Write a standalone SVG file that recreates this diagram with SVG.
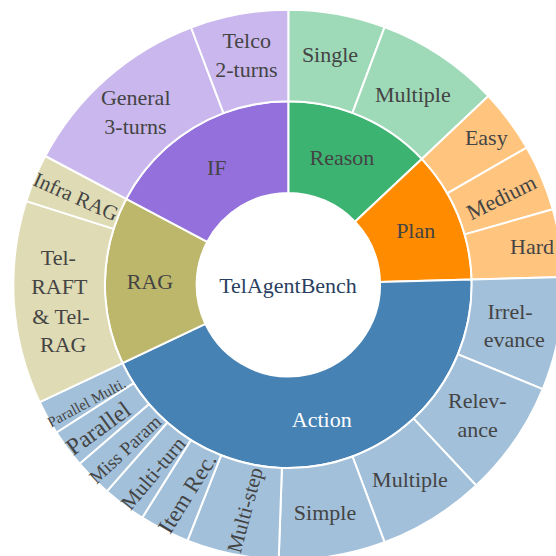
<svg xmlns="http://www.w3.org/2000/svg" width="556" height="556" viewBox="0 0 556 556">
<style>
path{stroke:#fff;stroke-width:2;stroke-linejoin:round}
text{font-family:'Liberation Serif','DejaVu Serif',serif;font-size:22px;fill:#444;text-anchor:middle}
.c-reason{fill:#3cb371}.l-reason{fill:#9ed9b8}
.c-plan{fill:#ff8c00}.l-plan{fill:#ffc57f}
.c-action{fill:#4682b4}.l-action{fill:#a2c0d9}
.c-rag{fill:#bdb76b}.l-rag{fill:#dedbb5}
.c-if{fill:#9370db}.l-if{fill:#c9b7ed}
.rot{dominant-baseline:central}
</style>
<rect width="556" height="556" fill="#fff"/>
<g id="root">
<circle cx="288.3" cy="284.7" r="91.7" fill="#fff"/>
<text x="288" y="293" font-family="Liberation Serif, serif" style="fill:#2a3f5f">TelAgentBench</text>
</g>
<g id="reason">
<path class="c-reason" d="M288.3,101.3 A183.4,183.4 0 0 1 421.8,158.9 L355.0,221.8 A91.7,91.7 0 0 0 288.3,193.0 Z"/>
<text x="342" y="165">Reason</text>
</g>
<g id="plan">
<path class="c-plan" d="M421.8,158.9 A183.4,183.4 0 0 1 471.6,279.6 L380.0,282.1 A91.7,91.7 0 0 0 355.0,221.8 Z"/>
<text x="415.7" y="238.3">Plan</text>
</g>
<g id="action">
<path class="c-action" d="M471.6,279.6 A183.4,183.4 0 0 1 122.5,363.1 L205.4,323.9 A91.7,91.7 0 0 0 380.0,282.1 Z"/>
<text x="321.7" y="426.7" style="fill:#fff">Action</text>
</g>
<g id="rag">
<path class="c-rag" d="M122.5,363.1 A183.4,183.4 0 0 1 126.2,198.9 L207.3,241.8 A91.7,91.7 0 0 0 205.4,323.9 Z"/>
<text x="150" y="289.3">RAG</text>
</g>
<g id="if">
<path class="c-if" d="M126.2,198.9 A183.4,183.4 0 0 1 288.3,101.3 L288.3,193.0 A91.7,91.7 0 0 0 207.3,241.8 Z"/>
<text x="216.7" y="175">IF</text>
</g>
<g id="reason-single">
<path class="l-reason" d="M288.3,9.7 A275,275 0 0 1 384.6,27.1 L352.5,112.9 A183.4,183.4 0 0 0 288.3,101.3 Z"/>
<text x="330" y="61.7">Single</text>
</g>
<g id="reason-multiple">
<path class="l-reason" d="M384.6,27.1 A275,275 0 0 1 488.4,96.1 L421.8,158.9 A183.4,183.4 0 0 0 352.5,112.9 Z"/>
<text x="412.8" y="101.7">Multiple</text>
</g>
<g id="plan-easy">
<path class="l-plan" d="M488.4,96.1 A275,275 0 0 1 526.7,147.6 L447.3,193.3 A183.4,183.4 0 0 0 421.8,158.9 Z"/>
<text x="486.3" y="145">Easy</text>
</g>
<g id="plan-medium">
<path class="l-plan" d="M526.7,147.6 A275,275 0 0 1 552.8,209.3 L464.7,234.4 A183.4,183.4 0 0 0 447.3,193.3 Z"/>
<text class="rot" transform="translate(501.3,197.3) rotate(-26.3)">Medium</text>
</g>
<g id="plan-hard">
<path class="l-plan" d="M552.8,209.3 A275,275 0 0 1 563.2,277.0 L471.6,279.6 A183.4,183.4 0 0 0 464.7,234.4 Z"/>
<text x="532" y="254">Hard</text>
</g>
<g id="action-irrelevance">
<path class="l-action" d="M563.2,277.0 A275,275 0 0 1 542.7,389.1 L458.0,354.3 A183.4,183.4 0 0 0 471.6,279.6 Z"/>
<text x="510" y="319.3">Irrel-</text>
<text x="514.3" y="347.3">evance</text>
</g>
<g id="action-relevance">
<path class="l-action" d="M542.7,389.1 A275,275 0 0 1 476.2,485.5 L413.6,418.6 A183.4,183.4 0 0 0 458.0,354.3 Z"/>
<text x="477.3" y="408.3">Relev-</text>
<text x="477.7" y="436.7">ance</text>
</g>
<g id="action-multiple">
<path class="l-action" d="M476.2,485.5 A275,275 0 0 1 384.6,542.3 L352.5,456.5 A183.4,183.4 0 0 0 413.6,418.6 Z"/>
<text x="410" y="487.3">Multiple</text>
</g>
<g id="action-simple">
<path class="l-action" d="M384.6,542.3 A275,275 0 0 1 278.7,559.5 L281.9,468.0 A183.4,183.4 0 0 0 352.5,456.5 Z"/>
<text x="325" y="520">Simple</text>
</g>
<g id="action-multistep">
<path class="l-action" d="M278.7,559.5 A275,275 0 0 1 187.5,540.6 L221.1,455.3 A183.4,183.4 0 0 0 281.9,468.0 Z"/>
<text class="rot" style="font-size:21px" transform="translate(245,510) rotate(-75)">Multi-step</text>
</g>
<g id="action-itemrec">
<path class="l-action" d="M187.5,540.6 A275,275 0 0 1 142.2,517.7 L190.8,440.1 A183.4,183.4 0 0 0 221.1,455.3 Z"/>
<text class="rot" style="font-size:23px" transform="translate(187.3,493.3) rotate(-58)">Item Rec.</text>
</g>
<g id="action-multiturn">
<path class="l-action" d="M142.2,517.7 A275,275 0 0 1 106.8,491.3 L167.3,422.5 A183.4,183.4 0 0 0 190.8,440.1 Z"/>
<text class="rot" style="font-size:21px" transform="translate(153.3,473.3) rotate(-50)">Multi-turn</text>
</g>
<g id="action-missparam">
<path class="l-action" d="M106.8,491.3 A275,275 0 0 1 79.5,463.7 L149.0,404.1 A183.4,183.4 0 0 0 167.3,422.5 Z"/>
<text class="rot" style="font-size:19px" transform="translate(125,449.3) rotate(-43)">Miss Param</text>
</g>
<g id="action-parallel">
<path class="l-action" d="M79.5,463.7 A275,275 0 0 1 56.4,432.5 L133.6,383.2 A183.4,183.4 0 0 0 149.0,404.1 Z"/>
<text class="rot" style="font-size:24px" transform="translate(98.3,428.3) rotate(-36)">Parallel</text>
</g>
<g id="action-parallelmulti">
<path class="l-action" d="M56.4,432.5 A275,275 0 0 1 39.7,402.2 L122.5,363.1 A183.4,183.4 0 0 0 133.6,383.2 Z"/>
<text class="rot" style="font-size:15px" transform="translate(86.7,402.7) rotate(-28.5)">Parallel Multi.</text>
</g>
<g id="rag-telraft">
<path class="l-rag" d="M39.7,402.2 A275,275 0 0 1 26.3,201.1 L113.6,228.9 A183.4,183.4 0 0 0 122.5,363.1 Z"/>
<text x="58.3" y="265">Tel-</text>
<text x="59.3" y="294">RAFT</text>
<text x="61" y="324">&amp; Tel-</text>
<text x="63.3" y="351.7">RAG</text>
</g>
<g id="rag-infra">
<path class="l-rag" d="M26.3,201.1 A275,275 0 0 1 45.3,156.0 L126.2,198.9 A183.4,183.4 0 0 0 113.6,228.9 Z"/>
<text class="rot" style="font-size:21px" transform="translate(76,196.7) rotate(24)">Infra RAG</text>
</g>
<g id="if-general">
<path class="l-if" d="M45.3,156.0 A275,275 0 0 1 191.1,27.5 L223.5,113.1 A183.4,183.4 0 0 0 126.2,198.9 Z"/>
<text x="135.7" y="105">General</text>
<text x="135.5" y="134.3">3-turns</text>
</g>
<g id="if-telco">
<path class="l-if" d="M191.1,27.5 A275,275 0 0 1 288.3,9.7 L288.3,101.3 A183.4,183.4 0 0 0 223.5,113.1 Z"/>
<text x="246.7" y="48.3">Telco</text>
<text x="246.4" y="76.7">2-turns</text>
</g>
</svg>
